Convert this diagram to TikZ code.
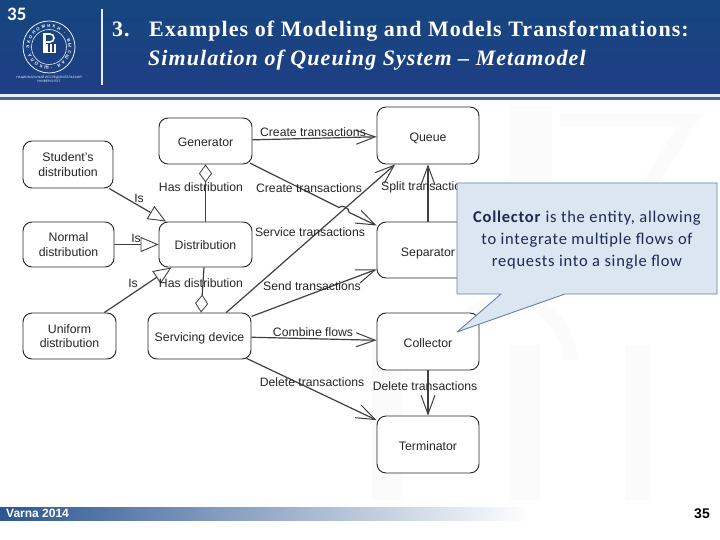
\documentclass[tikz,border=0pt]{standalone}
\usepackage{fontspec}
\setmainfont{Liberation Sans}
\newfontfamily\titlefont[LetterSpace=4.8]{Liberation Serif}
\newfontfamily\notefont[LetterSpace=4.5]{Carlito}
\newfontfamily\numfont{Carlito}
\usetikzlibrary{arrows.meta,calc,decorations.text}
\definecolor{headtop}{HTML}{15467F}
\definecolor{headbottom}{HTML}{203E85}
\definecolor{headpale}{HTML}{E6EEF8}
\definecolor{headline}{HTML}{46649A}
\definecolor{footbar}{HTML}{2C5692}
\definecolor{notefill}{HTML}{DCE6F2}
\definecolor{noteedge}{HTML}{6482AA}
\definecolor{notetext}{HTML}{1C2A50}

\begin{document}
\begin{tikzpicture}[x=1pt,y=-1pt,
    entity/.style={draw=black!85,line width=0.9pt,fill=white,rounded corners=9pt,text=black!85,align=center,inner sep=0pt,font=\fontsize{12.3}{14.5}\selectfont},
    oneleft/.style={entity,align=none,text height=11pt,text depth=0.5pt},
    oneright/.style={entity,align=none,text height=13pt,text depth=0.5pt},
    rel/.style={draw=black!75,line width=1.2pt},
    flow/.style={rel,-{Straight Barb[length=19pt,width=14pt,line width=1pt]}},
    isa/.style={rel,-{Triangle[open,length=18pt,width=15pt,line width=0.9pt,fill=white]}},
    part/.style={rel,-{Diamond[open,length=18pt,width=13pt,line width=0.8pt,fill=white]}},
    rellabel/.style={inner sep=0pt,text=black!85,font=\fontsize{12.2}{14}\selectfont},
    faint/.style={fill=black!1.5,draw=none}]
    \useasboundingbox (0,0) rectangle (720,540);
    \fill[white] (0,0) rectangle (720,540);

    % Watermark
    \fill[faint] (510,105) rectangle (552,180);
    \fill[faint] (372,345) rectangle (402,500);
    \fill[faint] (510,345) rectangle (540,500);
    \fill[faint] (625,345) rectangle (650,500);
    \draw[black!1.5,line width=14pt] (560,120) -- (690,120) -- (620,230);
    \draw[black!1.5,line width=14pt] (450,360) arc[start angle=180,end angle=360,radius=60];

    % Header
    \shade[top color=headtop,bottom color=headbottom] (0,0) rectangle (720,94);
    \fill[headpale] (0,94) rectangle (720,97.5);
    \fill[headline] (0,97.5) rectangle (720,100.5);
    \draw[headpale,line width=1.2pt] (102,9) -- (102,85);
    \node[anchor=base west,inner sep=0pt,text=white,font=\numfont\bfseries\fontsize{19}{19}\selectfont] (pagetop) at (7,21) {35};
    \node[anchor=base west,inner sep=0pt,text=white,font=\titlefont\bfseries\fontsize{22}{22}\selectfont] (titlenum) at (112,37) {3.};
    \node[anchor=base west,inner sep=0pt,text=white,font=\titlefont\bfseries\fontsize{22}{22}\selectfont] (titleone) at (149,37) {Examples of Modeling and Models Transformations:};
    \node[anchor=base west,inner sep=0pt,text=white,font=\titlefont\bfseries\itshape\fontsize{22}{22}\selectfont] (titletwo) at (148,66) {Simulation of Queuing System – Metamodel};

    % Logo
    \coordinate (logo) at (49,47);
    \draw[headpale,line width=0.8pt] (logo) circle[radius=26];
    \draw[headpale,line width=0.6pt] (logo) circle[radius=17.5];
    \path[decorate,decoration={text along path,text align=fit to path,text color=white,text={|\fontsize{4.3}{4.3}\selectfont\bfseries|ШКОЛА ЭКОНОМИКИ · ВЫСШАЯ ·}}] (49,66.5) arc[start angle=90,end angle=445,radius=19.5];
    \fill[white] (43,33) rectangle (46,53);
    \draw[white,line width=1.6pt] (45,34) -- (50,34) arc[start angle=-90,end angle=90,radius=4] -- (45,42);
    \draw[white,line width=1.4pt] (47,53) -- (47,44) (51,53) -- (51,44) (55,53) -- (55,44) (47,52.5) -- (55,52.5);
    \node[inner sep=0pt,text=headpale,align=center,font=\fontsize{3.2}{4.2}\selectfont] (logotext) at (49,79) {НАЦИОНАЛЬНЫЙ ИССЛЕДОВАТЕЛЬСКИЙ\\УНИВЕРСИТЕТ};

    % Footer
    \shade[left color=footbar,right color=white] (0,507) rectangle (530,520);
    \node[anchor=base west,inner sep=0pt,text=white,font=\bfseries\fontsize{12}{12}\selectfont] (place) at (6,517) {Varna 2014};
    \node[inner sep=0pt,font=\bfseries\fontsize{14}{14}\selectfont] (pagebottom) at (702,514) {35};

    % Entities
    \node[oneleft,minimum width=93pt,minimum height=46pt] (gen) at (205.5,141) {Generator};
    \node[entity,minimum width=90pt,minimum height=47pt] (stud) at (68,164.5) {Student's\\distribution};
    \node[oneleft,minimum width=93pt,minimum height=45pt] (dist) at (205.5,244.5) {Distribution};
    \node[entity,minimum width=91pt,minimum height=45pt] (norm) at (68.5,244.5) {Normal\\distribution};
    \node[entity,minimum width=93pt,minimum height=46pt] (unif) at (69.5,336) {Uniform\\distribution};
    \node[oneleft,minimum width=103pt,minimum height=46pt] (serv) at (199.5,336) {Servicing device};
    \node[oneright,minimum width=102pt,minimum height=57pt] (queue) at (428,135.5) {Queue};
    \node[oneright,minimum width=102pt,minimum height=56pt] (sep) at (428,250) {Separator};
    \node[oneright,minimum width=102pt,minimum height=57pt] (coll) at (428,341.5) {Collector};
    \node[oneright,minimum width=102pt,minimum height=57pt] (term) at (428,444.5) {Terminator};

    % Generalisations
    \draw[isa] (stud) -- (dist);
    \draw[isa] (norm) -- (dist);
    \draw[isa] (unif) -- (dist);
    \node[rellabel] (isone) at (139,198) {Is};
    \node[rellabel] (istwo) at (136,238) {Is};
    \node[rellabel] (isthree) at (133,283) {Is};

    % Aggregations
    \draw[part] (dist) -- (gen);
    \draw[part] (dist) -- (serv);
    \node[rellabel] (hasone) at (201,187) {Has distribution};
    \node[rellabel] (hastwo) at (201,283) {Has distribution};

    % Flows
    \draw[flow] (gen) -- (queue);
    \draw[flow] (serv) -- (queue);
    \draw[flow] (sep) -- (queue);
    \coordinate (jumpa) at (339,207.5);
    \coordinate (jumpb) at (349,212.4);
    \draw[rel,shorten <=-2.5pt] (gen) -- (jumpa);
    \draw[rel] (jumpa) to[bend left=75] (jumpb);
    \draw[flow] (jumpb) -- (sep);
    \draw[flow] (serv) -- (sep);
    \draw[flow] (serv) -- (coll);
    \draw[flow,shorten <=-2.5pt] (serv) -- (term);
    \draw[flow] (coll) -- (term);
    \node[rellabel] (createone) at (313,132) {Create transactions};
    \node[rellabel] (createtwo) at (309,188) {Create transactions};
    \node[rellabel,anchor=west] (split) at (381,187) {Split transactions};
    \node[rellabel] (service) at (310,232) {Service transactions};
    \node[rellabel] (send) at (312,286) {Send transactions};
    \node[rellabel] (combine) at (313,332) {Combine flows};
    \node[rellabel] (delone) at (312,382) {Delete transactions};
    \node[rellabel] (deltwo) at (425,386) {Delete transactions};

    % Note
    \coordinate (tip) at (457,332);
    \draw[fill=notefill,draw=noteedge,line width=0.9pt,line join=round]
        (457,183) -- (717,183) -- (717,294) -- (565,294) -- (tip) -- (501,294) -- (457,294) -- cycle;
    \node[inner sep=0pt,align=center,text=notetext,font=\notefont\fontsize{16.5}{22}\selectfont] (note) at (587,240) {\textbf{Collector} is the entity, allowing\\to integrate multiple flows of\\requests into a single flow};
\end{tikzpicture}
\end{document}
